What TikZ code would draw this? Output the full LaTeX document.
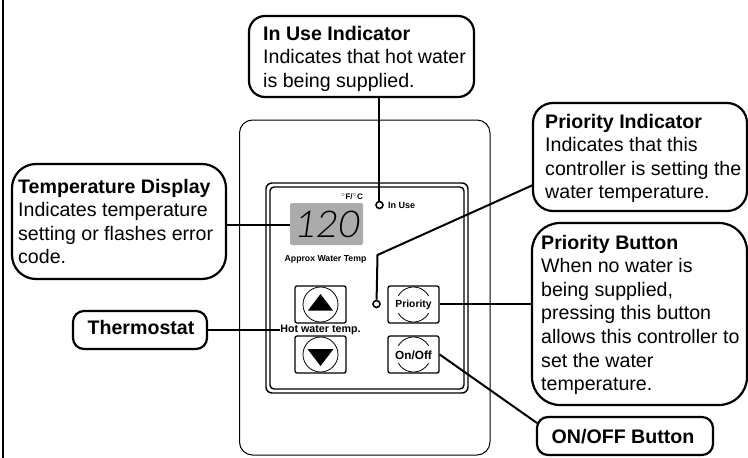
\documentclass[tikz,border=0pt]{standalone}
\usepackage{fontspec}
\setmainfont{Liberation Sans}
\newfontfamily\segfont[FakeSlant=0.14]{Lato Light}
\tikzset{
 x=1pt,y=-1pt,
 callout/.style={draw=black,line width=2.2pt,fill=white},
 lead/.style={draw=black,line width=2pt},
 ctext/.style={anchor=north west,inner sep=0pt,align=left,font=\fontsize{19.6}{23.6}\selectfont},
 ctitle/.style={anchor=base,inner sep=0pt,font=\bfseries\fontsize{19.6}{23.6}\selectfont},
 key/.style={draw=black,line width=1.3pt,rounded corners=2pt,fill=white,minimum width=51pt,minimum height=37pt,inner sep=0pt},
 ring/.style={draw=black,line width=0.8pt},
 lamp/.style={circle,draw=black,line width=1.6pt,fill=white,minimum size=7pt,inner sep=0pt},
 small/.style={inner sep=0pt},
}
\begin{document}
\begin{tikzpicture}
\useasboundingbox (0,0) rectangle (748,458);
\fill[white] (0,0) rectangle (748,458);
\draw[line width=1.6pt] (3,0) -- (3,458);
% panel
\draw[line width=1pt,rounded corners=13pt] (239.5,120) rectangle (490,455);
\draw[line width=1.4pt,rounded corners=6pt] (266,183) rectangle (468,393);
\draw[line width=1.4pt,rounded corners=4pt] (270,187) rectangle (464,389);
% display
\node[fill=black!33,rounded corners=2pt,minimum width=73pt,minimum height=42pt,inner sep=0pt] (disp) at (326.5,224) {};
\node[inner sep=0pt,anchor=base,font=\segfont\fontsize{37}{37}\selectfont] (val) at (326.5,237.5) {120};
\node[small,font=\bfseries\fontsize{8}{9}\selectfont] (fc) at (352,197) {$^{\circ}$F/$^{\circ}$C};
\node[small,font=\bfseries\fontsize{8.7}{9}\selectfont] (approx) at (325.5,259) {Approx Water Temp};
\node[lamp] (useled) at (379.5,205) {};
\node[small,anchor=west,font=\bfseries\fontsize{9}{10}\selectfont] (uselab) at (388,205.5) {In Use};
\node[lamp] (prled) at (376.5,304) {};
% keys
\node[key] (up) at (320.5,304.5) {};
\draw[ring] (up.center) circle (17.5);
\fill (308,310.5) -- (320.5,294) -- (333,310.5) -- cycle;
\node[key] (down) at (320.5,354.5) {};
\draw[ring] (down.center) circle (17.5);
\fill (307.5,349) -- (333.5,349) -- (320.5,366) -- cycle;
\node[key] (prio) at (413.5,304.5) {};
\draw[ring] (prio.center) ++(210:17.5) arc (210:330:17.5);
\draw[ring] (prio.center) ++(150:17.5) arc (150:30:17.5);
\node[small,font=\bfseries\fontsize{10.3}{11}\selectfont] (priot) at (413.5,305) {Priority};
\node[key] (onoff) at (413.5,354.5) {};
\draw[ring] (onoff.center) ++(210:17.5) arc (210:330:17.5);
\draw[ring] (onoff.center) ++(150:17.5) arc (150:30:17.5);
\node[small,font=\bfseries\fontsize{11.8}{12}\selectfont] (onofft) at (413.5,355) {On/Off};
\node[small,inner ysep=1pt,font=\bfseries\fontsize{10.7}{11}\selectfont] (hot) at (320.5,330) {Hot water temp.};
% callouts
\draw[callout,rounded corners=16pt] (249,16) rectangle (474,97);
\node[ctext] (a) at (263,25.7) {\textbf{In Use Indicator}\\Indicates that hot water\\is being supplied.};
\draw[callout,rounded corners=24pt] (12,164) rectangle (226,279);
\node[ctext] (b) at (18,178.7) {\textbf{Temperature Display}\\Indicates temperature\\setting or flashes error\\code.};
\draw[callout,rounded corners=20pt] (533,103) rectangle (747,211);
\node[ctext] (c) at (545,113.7) {\textbf{Priority Indicator}\\Indicates that this\\controller is setting the\\water temperature.};
\draw[callout,rounded corners=28pt] (532,223) rectangle (747,405);
\node[ctext] (d) at (541,234.7) {\textbf{Priority Button}\\When no water is\\being supplied,\\pressing this button\\allows this controller to\\set the water\\temperature.};
\draw[callout,rounded corners=11pt] (73,311) rectangle (207,349);
\node[ctitle] (e) at (141,334) {Thermostat};
\draw[callout,rounded corners=11pt] (537,417) rectangle (713,455);
\node[ctitle] (f) at (623,443) {ON/OFF Button};
% connectors
\coordinate (ka) at (378.5,97);
\coordinate (kb) at (226,225);
\coordinate (kc) at (533,185);
\coordinate (kd) at (532,303.5);
\coordinate (ke) at (207,329.5);
\coordinate (kf) at (537,423);
\coordinate (bend) at (377.5,255);
\draw[lead] (ka) -- (ka |- useled.north);
\draw[lead] (kb) -- (kb -| disp.west);
\draw[lead] (kc) -- (bend) -- (prled);
\draw[lead] (kd) -- (kd -| prio.east);
\draw[lead] (ke) -- (ke -| hot.west);
\draw[lead] (kf) -- (onoff.east);
\end{tikzpicture}
\end{document}
